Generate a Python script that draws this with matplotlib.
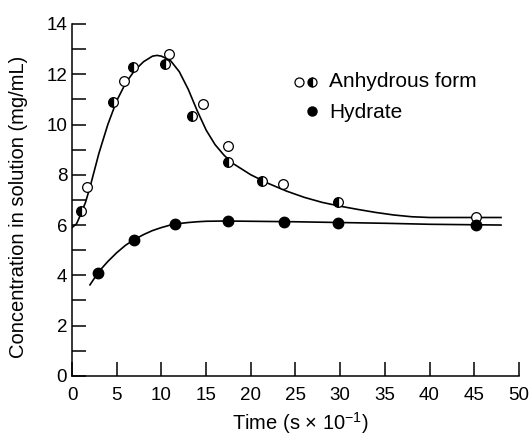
import numpy as np
import matplotlib.pyplot as plt

plt.rcParams['font.family'] = ['Liberation Sans', 'DejaVu Sans']
plt.rcParams['mathtext.fontset'] = 'custom'
plt.rcParams['mathtext.rm'] = 'Liberation Sans'
plt.rcParams['mathtext.default'] = 'regular'

# Anhydrous form - open points and half-filled points
anhOpenX = [1.7, 5.8, 10.9, 14.7, 17.5, 23.6, 45.2]
anhOpenY = [7.5, 11.75, 12.8, 10.8, 9.15, 7.65, 6.33]
anhHalfX = [1.0, 4.6, 6.8, 10.4, 13.4, 17.5, 21.2, 29.8]
anhHalfY = [6.57, 10.9, 12.3, 12.4, 10.35, 8.5, 7.75, 6.9]

# Hydrate
hydX = [2.9, 6.9, 11.5, 17.5, 23.7, 29.8, 45.2]
hydY = [4.1, 5.42, 6.05, 6.17, 6.13, 6.1, 6.0]

# fitted curves
anhCurveX = [0, 0.5, 1.0, 1.5, 2, 3, 4, 5, 6, 7, 8, 9, 9.5, 10, 11, 12, 13, 14, 15, 16, 17, 18, 20, 22, 24, 26, 28, 30, 32, 34, 36, 38, 40, 44, 48]
anhCurveY = [5.9, 6.05, 6.45, 6.9, 7.5, 8.85, 10.0, 10.95, 11.65, 12.15, 12.5, 12.72, 12.75, 12.72, 12.55, 12.1, 11.4, 10.55, 9.78, 9.2, 8.78, 8.45, 8.0, 7.65, 7.35, 7.1, 6.9, 6.75, 6.62, 6.5, 6.4, 6.33, 6.3, 6.3, 6.3]
hydCurveX = [2.0, 3, 4, 5, 6, 7, 8, 9, 10, 11, 12, 13, 14, 15, 17, 20, 25, 30, 35, 40, 48]
hydCurveY = [3.62, 4.15, 4.55, 4.9, 5.2, 5.43, 5.62, 5.78, 5.9, 6.0, 6.06, 6.1, 6.13, 6.15, 6.16, 6.15, 6.13, 6.1, 6.07, 6.03, 6.0]

fig = plt.figure(figsize=(5.3, 4.36), dpi=100)
ax = fig.add_axes([0.136, 0.138, 0.843, 0.807])

ax.plot(anhCurveX, anhCurveY, color='black', lw=1.2)
ax.plot(hydCurveX, hydCurveY, color='black', lw=1.2)

ax.plot(anhOpenX, anhOpenY, 'o', ms=7, mfc='white', mec='black', mew=0.9)
ax.plot(anhHalfX, anhHalfY, 'o', ms=7, fillstyle='left', mfc='black', mfcalt='white', mec='black', mew=0.9)
ax.plot(hydX, hydY, 'o', ms=7.5, color='black')

# legend drawn by hand
ax.plot([0.508], [0.835], 'o', ms=6.5, mfc='white', mec='black', mew=0.9, transform=ax.transAxes, clip_on=False)
ax.plot([0.537], [0.835], 'o', ms=6.5, fillstyle='left', mfc='black', mfcalt='white', mec='black', mew=0.9, transform=ax.transAxes, clip_on=False)
ax.plot([0.537], [0.753], 'o', ms=6.5, color='black', transform=ax.transAxes, clip_on=False)
ax.text(0.575, 0.821, 'Anhydrous form', transform=ax.transAxes, fontsize=15, va='baseline')
ax.text(0.575, 0.733, 'Hydrate', transform=ax.transAxes, fontsize=15, va='baseline')

ax.set_xlim(0, 50)
ax.set_ylim(0, 14)
ax.set_xticks(np.arange(0, 51, 5))
ax.set_yticks(np.arange(0, 15, 2))
ax.set_yticks(np.arange(1, 14, 2), minor=True)
ax.tick_params(axis='both', which='both', direction='in', length=10, width=1.1, labelsize=13.5)
ax.tick_params(axis='x', pad=8)
ax.tick_params(axis='y', pad=3.5)
ax.spines['top'].set_visible(False)
ax.spines['right'].set_visible(False)
ax.spines['left'].set_linewidth(1.1)
ax.spines['bottom'].set_linewidth(1.1)

ax.set_xlabel('Time (s × 10$^{-1}$)', fontsize=14.5, va='center')
ax.set_ylabel('Concentration in solution (mg/mL)', fontsize=14.5, va='center')
ax.xaxis.set_label_coords(0.51, -0.134)
ax.yaxis.set_label_coords(-0.119, 0.48)

fig.savefig('out.png', dpi=100)
